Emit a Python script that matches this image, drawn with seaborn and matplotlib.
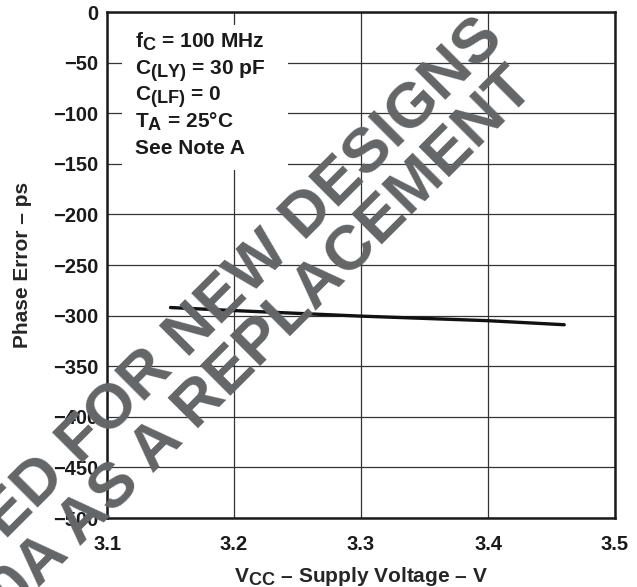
import matplotlib
matplotlib.use('Agg')
import matplotlib.pyplot as plt
import matplotlib.patches as mpatches
import matplotlib._mathtext as mathtext_internal
import seaborn as sns
import pandas as pd

# Phase error vs supply voltage
vcc = [3.15, 3.2, 3.3, 3.4, 3.46]
phase_err = [-292, -295, -300.5, -305, -309]
x_ticks = [3.1, 3.2, 3.3, 3.4, 3.5]
y_ticks = [0, -50, -100, -150, -200, -250, -300, -350, -400, -450, -500]
conditions = [r'f$_{C}$ = 100 MHz', r'C$_{(LY)}$ = 30 pF', r'C$_{(LF)}$ = 0',
              r'T$_{A}$ = 25°C', 'See Note A']
watermark = ['NOT RECOMMENDED FOR NEW DESIGNS', 'USE CDCVF2510A AS A REPLACEMENT']

sns.set_theme(style='white')
plt.rcParams['font.family'] = ['Liberation Sans', 'DejaVu Sans']
plt.rcParams['font.weight'] = 'bold'
plt.rcParams['mathtext.fontset'] = 'custom'
plt.rcParams['mathtext.rm'] = 'Liberation Sans:bold'
plt.rcParams['mathtext.it'] = 'Liberation Sans:bold'
plt.rcParams['mathtext.bf'] = 'Liberation Sans:bold'
# datasheet subscripts are nearly full size
mathtext_internal.SHRINK_FACTOR = 0.87

df = pd.DataFrame({'vcc': vcc, 'err': phase_err})

fig = plt.figure(figsize=(6.37, 5.87), dpi=100)
ax = fig.add_axes([0.168, 0.1175, 0.7975, 0.862])
sns.lineplot(data=df, x='vcc', y='err', color='#111111', linewidth=2.4, ax=ax, zorder=4)

ax.set_xlim(3.1, 3.5)
ax.set_ylim(-500, 0)
ax.set_xticks(x_ticks)
ax.set_yticks(y_ticks)
ax.set_xticklabels([f'{t:.1f}' for t in x_ticks])
ax.set_yticklabels([f'{t:d}'.replace('-', '\u2212') for t in y_ticks])
ax.tick_params(axis='both', length=0, labelsize=14.5, labelcolor='#1a1a1a')
ax.tick_params(axis='x', pad=12)
ax.tick_params(axis='y', pad=6)
ax.grid(True, color='#333333', linewidth=0.9)
for s in ax.spines.values():
    s.set_color('#1a1a1a')
    s.set_linewidth(1.8)
    s.set_zorder(5)

ax.set_xlabel(r'V$_{CC}$ – Supply Voltage – V', fontsize=15, fontweight='bold', labelpad=8)
ax.set_ylabel('Phase Error – ps', fontsize=15, fontweight='bold', labelpad=15)

# white panel behind the test conditions
ax.add_patch(mpatches.Rectangle((0.03, 0.688), 0.327, 0.286, transform=ax.transAxes,
                                facecolor='white', edgecolor='none', zorder=3))
for i, txt in enumerate(conditions):
    ax.text(0.055, 0.929 - i * 0.0525, txt, transform=ax.transAxes, fontsize=15,
            fontweight='bold', color='#1a1a1a', ha='left', va='baseline', zorder=6)

# diagonal watermark
ends = [(506 / 637, 1 - 41 / 587), (537 / 637, 1 - 91 / 587)]
for txt, (xe, ye) in zip(watermark, ends):
    fig.text(xe, ye, txt, fontsize=45.5, fontweight='bold', color='#646566',
             ha='right', va='baseline', rotation=45, rotation_mode='anchor', zorder=10)

fig.savefig('out.png', dpi=100)
